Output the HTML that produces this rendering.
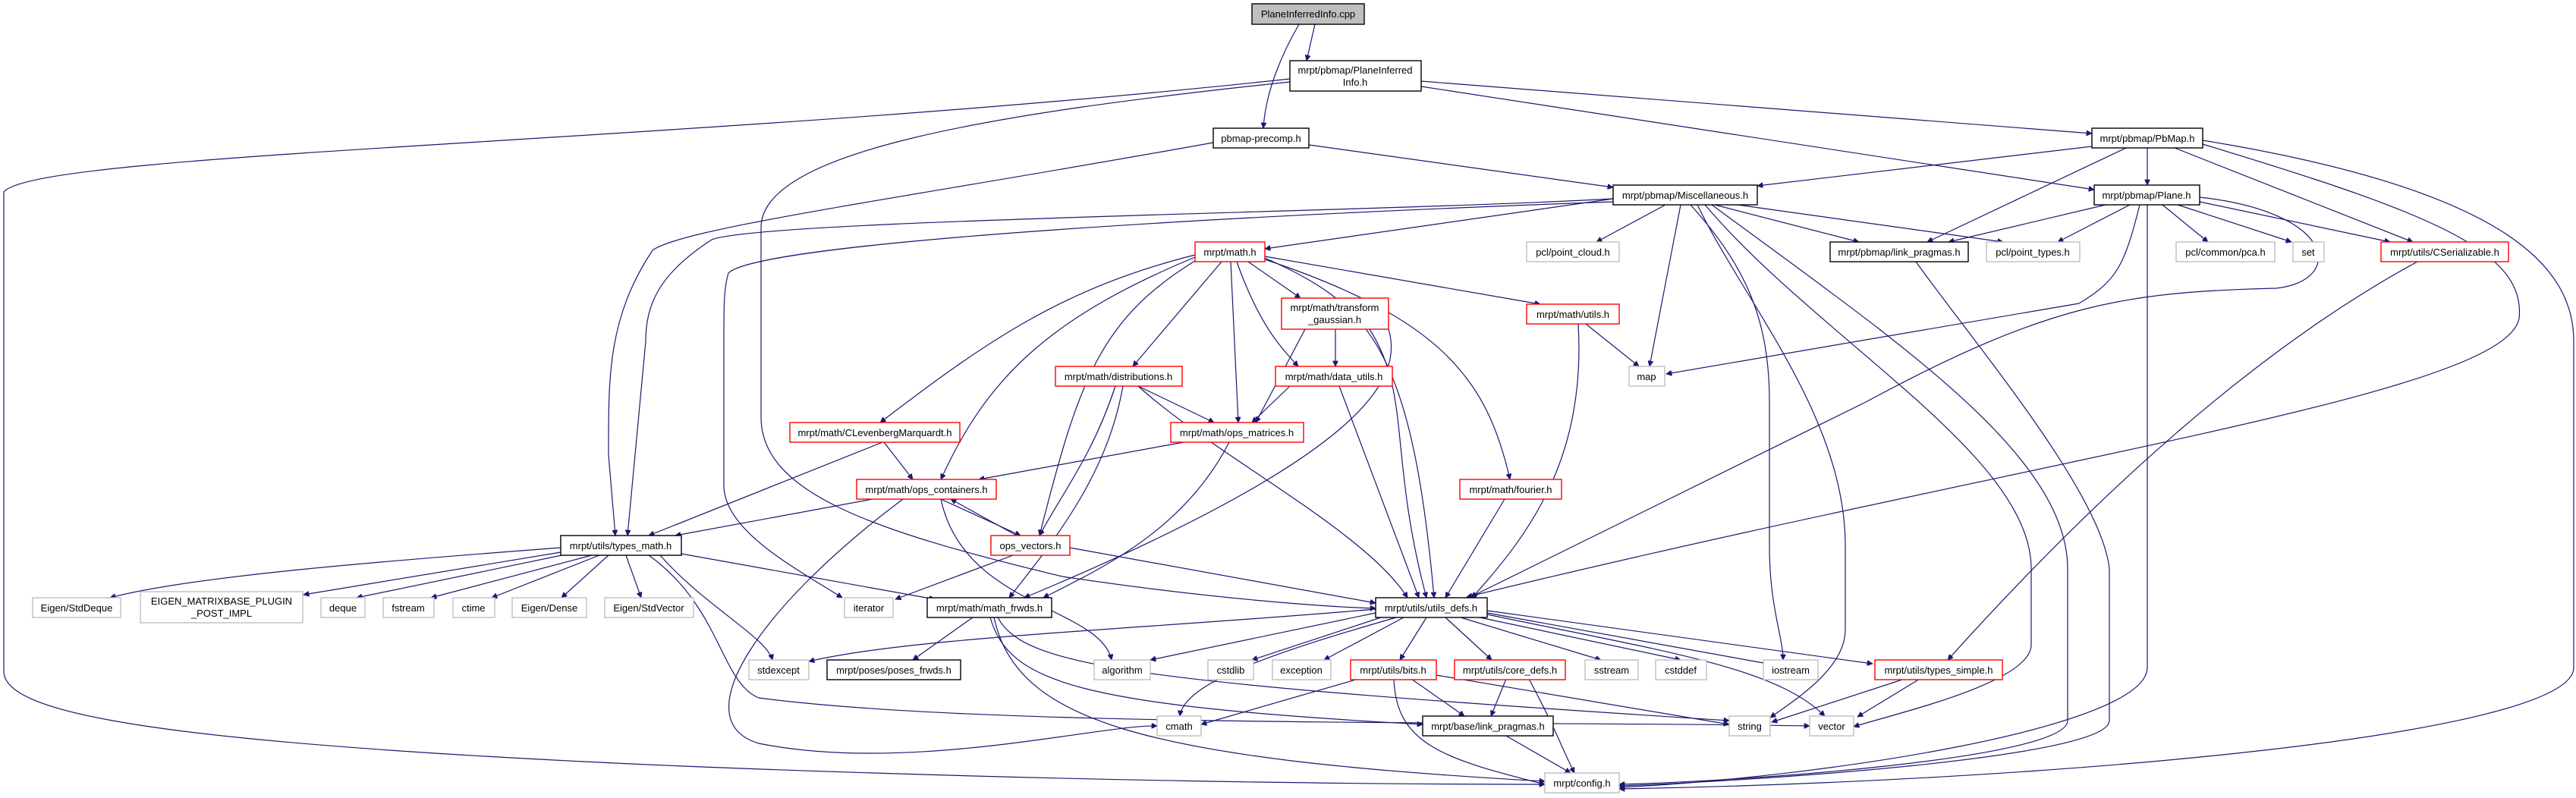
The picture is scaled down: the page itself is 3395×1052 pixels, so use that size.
<!DOCTYPE html>
<html><head><meta charset="utf-8"><style>
html,body{margin:0;padding:0;background:#fff;}
svg{display:block;}
text{font-family:"Liberation Sans",sans-serif;font-size:13px;fill:#000;text-anchor:middle;}
.b{fill:#fff;stroke:#000;stroke-width:1.4}
.r{fill:#fff;stroke:#ff0000;stroke-width:1.4}
.g{fill:#fff;stroke:#bfbfbf;stroke-width:1.4}
.e path,.e line{fill:none;stroke:#191970;stroke-width:1.2;marker-end:url(#a)}
</style></head><body>
<svg width="3395" height="1052" viewBox="0 0 3395 1052" xmlns="http://www.w3.org/2000/svg">
<defs><marker id="a" viewBox="0 0 10 10" refX="10" refY="5" markerWidth="10" markerHeight="7" markerUnits="userSpaceOnUse" orient="auto"><path d="M0,0 L10,5 L0,10 z" fill="#191970" stroke="#191970"/></marker></defs>
<g class="e">
<line x1="1733" y1="32" x2="1722" y2="80"/>
<path d="M1712,32 C1690,70 1668,120 1665,169"/>
<line x1="1873" y1="107" x2="2757" y2="176"/>
<line x1="1873" y1="114" x2="2760" y2="250"/>
<path d="M1700,104 C900,190 50,200 5,253 L5,885 C5,940 200,980 900,1010 C1400,1030 1800,1034 2036,1034"/>
<path d="M1700,108 C1300,150 1003,200 1003,300 L1003,550 C1003,650 1150,700 1400,760 C1600,790 1750,800 1813,802"/>
<line x1="1725" y1="191" x2="2126" y2="247"/>
<path d="M1599,188 C1200,260 900,300 860,330 C800,420 802,500 802,600 L811,706"/>
<path d="M2126,262 C1800,280 1000,290 938,316 C870,360 851,400 851,450 L827,706"/>
<path d="M2126,266 C1600,285 1000,320 960,360 C954,380 954,400 954,450 L954,640 C954,700 1050,750 1110,788"/>
<line x1="2126" y1="262" x2="1667" y2="328"/>
<line x1="2195" y1="270" x2="2104" y2="319"/>
<line x1="2215" y1="270" x2="2174" y2="483"/>
<path d="M2228,270 C2300,350 2332,420 2332,530 L2332,720 C2332,800 2350,840 2350,870"/>
<path d="M2237,270 C2300,400 2432,550 2432,720 L2432,830 C2432,880 2370,920 2333,946"/>
<path d="M2247,270 C2400,450 2677,600 2677,750 L2677,850 C2677,900 2500,940 2443,958"/>
<path d="M2256,270 C2500,450 2725,600 2725,750 L2725,950 C2725,1000 2300,1030 2134,1034"/>
<line x1="2260" y1="270" x2="2450" y2="319"/>
<line x1="2290" y1="270" x2="2640" y2="319"/>
<path d="M2525,345 C2600,450 2770,650 2780,750 L2780,950 C2780,1000 2300,1030 2134,1036"/>
<path d="M2830,270 L2830,880 C2830,960 2400,1025 2134,1038"/>
<path d="M2903,185 C3300,250 3392,350 3392,450 L3392,880 C3392,970 2700,1030 2134,1040"/>
<path d="M2903,190 C3200,280 3330,330 3320,420 C3300,520 2700,600 1933,787"/>
<path d="M2899,260 C3080,280 3090,370 3000,380 C2800,385 2700,400 2459,530 L1938,787"/>
<path d="M2820,270 C2800,350 2790,370 2740,400 L2196,493"/>
<line x1="2775" y1="270" x2="2568" y2="319"/>
<line x1="2807" y1="270" x2="2712" y2="319"/>
<line x1="2850" y1="270" x2="2910" y2="319"/>
<line x1="2870" y1="270" x2="3020" y2="319"/>
<line x1="2899" y1="266" x2="3150" y2="319"/>
<line x1="2757" y1="193" x2="2316" y2="245"/>
<line x1="2802" y1="195" x2="2540" y2="319"/>
<line x1="2830" y1="195" x2="2830" y2="244"/>
<line x1="2866" y1="195" x2="3180" y2="319"/>
<path d="M3186,345 Q2900,500 2567,870"/>
<path d="M1575,336 C1400,380 1300,450 1160,557"/>
<path d="M1575,339 C1380,420 1300,500 1240,632"/>
<path d="M1578,342 C1450,420 1422,500 1370,706"/>
<line x1="1610" y1="345" x2="1493" y2="483"/>
<line x1="1622" y1="345" x2="1632" y2="557"/>
<line x1="1645" y1="345" x2="1714" y2="393"/>
<path d="M1630,345 C1660,430 1690,460 1711,483"/>
<line x1="1667" y1="338" x2="2030" y2="401"/>
<path d="M1667,342 C1900,420 1960,500 1990,632"/>
<path d="M1667,340 C1800,400 1860,450 1890,788"/>
<line x1="1720" y1="434" x2="1655" y2="557"/>
<line x1="1760" y1="434" x2="1760" y2="483"/>
<path d="M1805,434 C1860,520 1830,600 1880,788"/>
<path d="M1830,434 C1850,500 1800,600 1350,788"/>
<line x1="1500" y1="509" x2="1600" y2="557"/>
<path d="M1470,509 C1440,600 1400,650 1370,706"/>
<path d="M1480,509 C1460,620 1400,700 1330,788"/>
<path d="M1500,509 C1600,600 1800,700 1855,788"/>
<line x1="1700" y1="509" x2="1650" y2="557"/>
<line x1="1765" y1="509" x2="1870" y2="788"/>
<line x1="2090" y1="427" x2="2160" y2="483"/>
<path d="M2080,427 C2090,600 2020,700 1940,788"/>
<line x1="1983" y1="658" x2="1905" y2="788"/>
<line x1="1165" y1="583" x2="1203" y2="632"/>
<line x1="1163" y1="583" x2="855" y2="706"/>
<line x1="1560" y1="583" x2="1290" y2="632"/>
<path d="M1620,583 C1560,700 1450,750 1375,788"/>
<line x1="1150" y1="658" x2="890" y2="706"/>
<line x1="1240" y1="658" x2="1345" y2="706"/>
<path d="M1190,658 C1000,800 900,950 1000,980 C1200,1020 1450,955 1525,957"/>
<path d="M1240,658 C1270,800 1450,800 1465,870"/>
<line x1="1340" y1="706" x2="1253" y2="658"/>
<line x1="1335" y1="732" x2="1180" y2="790"/>
<line x1="1410" y1="722" x2="1813" y2="795"/>
<path d="M739,722 C500,740 250,760 145,788"/>
<line x1="745" y1="727" x2="400" y2="784"/>
<line x1="750" y1="730" x2="470" y2="788"/>
<line x1="780" y1="732" x2="568" y2="788"/>
<line x1="790" y1="732" x2="648" y2="788"/>
<line x1="802" y1="732" x2="740" y2="788"/>
<line x1="825" y1="732" x2="845" y2="788"/>
<line x1="898" y1="730" x2="1232" y2="790"/>
<path d="M870,732 C930,800 1010,840 1018,870"/>
<path d="M855,732 C950,800 950,900 1000,920 C1300,960 2000,950 2385,957"/>
<line x1="1282" y1="814" x2="1203" y2="870"/>
<path d="M1305,814 C1330,900 1420,930 1875,955"/>
<path d="M1315,814 C1350,880 1500,900 2279,950"/>
<path d="M1310,814 C1340,950 1500,1000 2036,1030"/>
<path d="M1813,803 C1500,830 1200,840 1066,872"/>
<line x1="1813" y1="808" x2="1516" y2="870"/>
<line x1="1820" y1="814" x2="1650" y2="870"/>
<line x1="1850" y1="814" x2="1745" y2="870"/>
<line x1="1880" y1="814" x2="1845" y2="870"/>
<line x1="1905" y1="814" x2="1966" y2="870"/>
<line x1="1925" y1="814" x2="2110" y2="870"/>
<line x1="1950" y1="814" x2="2215" y2="870"/>
<line x1="1960" y1="808" x2="2335" y2="876"/>
<line x1="1960" y1="805" x2="2468" y2="875"/>
<path d="M1960,810 C2200,860 2340,880 2405,944"/>
<path d="M1840,814 C1680,860 1560,900 1555,944"/>
<line x1="1790" y1="895" x2="1583" y2="955"/>
<line x1="1860" y1="895" x2="1930" y2="944"/>
<line x1="1893" y1="890" x2="2279" y2="955"/>
<path d="M1837,895 C1840,980 1900,1000 2036,1034"/>
<line x1="1985" y1="895" x2="1965" y2="944"/>
<path d="M2015,895 C2050,960 2060,990 2075,1019"/>
<line x1="2510" y1="895" x2="2335" y2="952"/>
<line x1="2530" y1="895" x2="2448" y2="945"/>
<line x1="1985" y1="970" x2="2070" y2="1019"/>
</g>
<g>
<rect x="1650" y="5" width="148" height="27" fill="#bfbfbf" stroke="#000" stroke-width="1.4"/><text x="1724" y="23">PlaneInferredInfo.cpp</text>
<rect class="b" x="1700" y="80" width="173" height="40"/><text x="1786" y="97">mrpt/pbmap/PlaneInferred</text><text x="1786" y="113">Info.h</text>
<rect class="b" x="1599" y="169" width="126" height="26"/><text x="1662" y="187">pbmap-precomp.h</text>
<rect class="b" x="2757" y="169" width="146" height="26"/><text x="2830" y="187">mrpt/pbmap/PbMap.h</text>
<rect class="b" x="2126" y="244" width="190" height="26"/><text x="2221" y="262">mrpt/pbmap/Miscellaneous.h</text>
<rect class="b" x="2760" y="244" width="139" height="26"/><text x="2829" y="262">mrpt/pbmap/Plane.h</text>
<rect class="r" x="1575" y="319" width="92" height="26"/><text x="1621" y="337">mrpt/math.h</text>
<rect class="g" x="2012" y="319" width="122" height="26"/><text x="2073" y="337">pcl/point_cloud.h</text>
<rect class="b" x="2412" y="319" width="182" height="26"/><text x="2503" y="337">mrpt/pbmap/link_pragmas.h</text>
<rect class="g" x="2618" y="319" width="123" height="26"/><text x="2679" y="337">pcl/point_types.h</text>
<rect class="g" x="2868" y="319" width="130" height="26"/><text x="2933" y="337">pcl/common/pca.h</text>
<rect class="g" x="3022" y="319" width="41" height="26"/><text x="3042" y="337">set</text>
<rect class="r" x="3138" y="319" width="168" height="26"/><text x="3222" y="337">mrpt/utils/CSerializable.h</text>
<rect class="r" x="1689" y="393" width="141" height="41"/><text x="1759" y="410">mrpt/math/transform</text><text x="1759" y="426">_gaussian.h</text>
<rect class="r" x="2012" y="401" width="122" height="26"/><text x="2073" y="419">mrpt/math/utils.h</text>
<rect class="r" x="1391" y="483" width="167" height="26"/><text x="1474" y="501">mrpt/math/distributions.h</text>
<rect class="r" x="1681" y="483" width="154" height="26"/><text x="1758" y="501">mrpt/math/data_utils.h</text>
<rect class="g" x="2147" y="483" width="47" height="26"/><text x="2170" y="501">map</text>
<rect class="r" x="1041" y="557" width="224" height="26"/><text x="1153" y="575">mrpt/math/CLevenbergMarquardt.h</text>
<rect class="r" x="1543" y="557" width="175" height="26"/><text x="1630" y="575">mrpt/math/ops_matrices.h</text>
<rect class="r" x="1129" y="632" width="184" height="26"/><text x="1221" y="650">mrpt/math/ops_containers.h</text>
<rect class="r" x="1924" y="632" width="134" height="26"/><text x="1991" y="650">mrpt/math/fourier.h</text>
<rect class="r" x="1306" y="706" width="104" height="26"/><text x="1358" y="724">ops_vectors.h</text>
<rect class="b" x="739" y="706" width="159" height="26"/><text x="818" y="724">mrpt/utils/types_math.h</text>
<rect class="g" x="43" y="788" width="116" height="26"/><text x="101" y="806">Eigen/StdDeque</text>
<rect class="g" x="185" y="780" width="214" height="41"/><text x="292" y="797">EIGEN_MATRIXBASE_PLUGIN</text><text x="292" y="813">_POST_IMPL</text>
<rect class="g" x="423" y="788" width="58" height="26"/><text x="452" y="806">deque</text>
<rect class="g" x="505" y="788" width="67" height="26"/><text x="538" y="806">fstream</text>
<rect class="g" x="597" y="788" width="55" height="26"/><text x="624" y="806">ctime</text>
<rect class="g" x="675" y="788" width="98" height="26"/><text x="724" y="806">Eigen/Dense</text>
<rect class="g" x="797" y="788" width="117" height="26"/><text x="855" y="806">Eigen/StdVector</text>
<rect class="g" x="1113" y="788" width="64" height="26"/><text x="1145" y="806">iterator</text>
<rect class="b" x="1222" y="788" width="164" height="26"/><text x="1304" y="806">mrpt/math/math_frwds.h</text>
<rect class="b" x="1813" y="788" width="147" height="26"/><text x="1886" y="806">mrpt/utils/utils_defs.h</text>
<rect class="g" x="987" y="870" width="79" height="26"/><text x="1026" y="888">stdexcept</text>
<rect class="b" x="1090" y="870" width="176" height="26"/><text x="1178" y="888">mrpt/poses/poses_frwds.h</text>
<rect class="g" x="1442" y="870" width="74" height="26"/><text x="1479" y="888">algorithm</text>
<rect class="g" x="1592" y="870" width="60" height="26"/><text x="1622" y="888">cstdlib</text>
<rect class="g" x="1677" y="870" width="77" height="26"/><text x="1715" y="888">exception</text>
<rect class="r" x="1780" y="870" width="113" height="26"/><text x="1836" y="888">mrpt/utils/bits.h</text>
<rect class="r" x="1917" y="870" width="146" height="26"/><text x="1990" y="888">mrpt/utils/core_defs.h</text>
<rect class="g" x="2089" y="870" width="70" height="26"/><text x="2124" y="888">sstream</text>
<rect class="g" x="2182" y="870" width="67" height="26"/><text x="2215" y="888">cstddef</text>
<rect class="g" x="2324" y="870" width="72" height="26"/><text x="2360" y="888">iostream</text>
<rect class="r" x="2471" y="870" width="168" height="26"/><text x="2555" y="888">mrpt/utils/types_simple.h</text>
<rect class="g" x="1525" y="944" width="58" height="26"/><text x="1554" y="962">cmath</text>
<rect class="b" x="1875" y="944" width="172" height="26"/><text x="1961" y="962">mrpt/base/link_pragmas.h</text>
<rect class="g" x="2279" y="944" width="54" height="26"/><text x="2306" y="962">string</text>
<rect class="g" x="2385" y="944" width="58" height="26"/><text x="2414" y="962">vector</text>
<rect class="g" x="2036" y="1019" width="98" height="26"/><text x="2085" y="1037">mrpt/config.h</text>
</g>
</svg>
</body></html>
